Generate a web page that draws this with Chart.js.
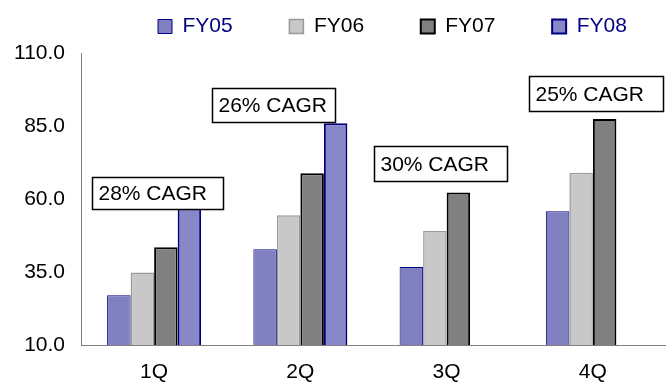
<!DOCTYPE html>
<html>
<head>
<meta charset="utf-8">
<script src="https://cdn.jsdelivr.net/npm/chart.js@4/dist/chart.umd.min.js"></script>
<style>
  html, body { margin: 0; padding: 0; background: #ffffff; }
  #wrap { width: 666px; height: 385px; position: relative; }
</style>
</head>
<body>
<div id="wrap"><canvas id="chart"></canvas></div>
<script>
// Quarterly values by fiscal year
const quarters = ['1Q', '2Q', '3Q', '4Q'];
const seriesNames = ['FY05', 'FY06', 'FY07', 'FY08'];
const fy05 = [27.0, 42.8, 36.7, 55.8];
const fy06 = [34.8, 54.4, 49.0, 69.0];
const fy07 = [43.5, 68.8, 62.2, 87.4];
const fy08 = [57.0, 85.9, null, null];
const cagrLabels = ['28% CAGR', '26% CAGR', '30% CAGR', '25% CAGR'];
const yTicks = [10, 35, 60, 85, 110];

const FONT = '"Liberation Sans", Arial, Helvetica, sans-serif';
const NAVY = '#000080';

// Callout boxes: left offset from the quarter centre, gap above the tallest bar, size
const calloutLayout = [
  { dx: -62, gap: -1, w: 131, h: 32 },
  { dx: -88, gap: 1,  w: 123, h: 34 },
  { dx: -73, gap: 12, w: 133, h: 35 },
  { dx: -64, gap: 8,  w: 134, h: 35 }
];

const cagrCallouts = {
  id: 'cagrCallouts',
  afterDatasetsDraw(chart) {
    const { ctx, scales: { x, y } } = chart;
    ctx.save();
    ctx.font = '21px ' + FONT;
    ctx.textBaseline = 'middle';
    ctx.textAlign = 'left';
    cagrLabels.forEach((text, i) => {
      const b = calloutLayout[i];
      const vals = chart.data.datasets.map(ds => ds.data[i]).filter(v => v != null);
      const peak = y.getPixelForValue(Math.max(...vals));
      const left = Math.round(x.getPixelForValue(i) + b.dx) + 0.5;
      const bottom = Math.round(peak - b.gap) + 0.5;
      const top = bottom - b.h;
      ctx.fillStyle = '#ffffff';
      ctx.fillRect(left, top, b.w, b.h);
      ctx.lineWidth = 1.5;
      ctx.strokeStyle = '#000000';
      ctx.strokeRect(left, top, b.w, b.h);
      ctx.fillStyle = '#000000';
      ctx.fillText(text, left + 6, top + b.h / 2 + 1);
    });
    ctx.restore();
  }
};

// Lift the legend row a little above its reserved band
const legendLift = {
  id: 'legendLift',
  afterLayout(chart) {
    const lg = chart.legend;
    if (lg) { lg.top -= 6; lg.bottom -= 6; }
  }
};

const legendTextColors = [NAVY, '#000000', '#000000', NAVY];
const legendTrail = [8, 8, 8, 5];

new Chart(document.getElementById('chart'), {
  type: 'bar',
  data: {
    labels: quarters,
    datasets: [
      { label: seriesNames[0], data: fy05, backgroundColor: '#8080c0', borderColor: NAVY, borderWidth: 1 },
      { label: seriesNames[1], data: fy06, backgroundColor: '#c8c8c8', borderColor: '#999999', borderWidth: 1.5 },
      { label: seriesNames[2], data: fy07, backgroundColor: '#808080', borderColor: '#000000', borderWidth: 2 },
      { label: seriesNames[3], data: fy08, backgroundColor: '#8888c8', borderColor: NAVY, borderWidth: 2 }
    ]
  },
  options: {
    responsive: true,
    maintainAspectRatio: false,
    animation: false,
    devicePixelRatio: 1,
    layout: { padding: { top: 12, left: 0, right: 0, bottom: 0 } },
    datasets: { bar: { categoryPercentage: 0.643, barPercentage: 1.0 } },
    scales: {
      x: {
        grid: { display: true, drawOnChartArea: false, drawTicks: false },
        border: { display: true, color: '#808080', width: 1 },
        ticks: { color: '#000000', font: { family: FONT, size: 21 }, padding: 15, maxRotation: 0 },
        afterFit(scale) { scale.height = 40; }
      },
      y: {
        min: 10,
        max: 110,
        grid: { display: true, drawOnChartArea: false, drawTicks: false },
        border: { display: true, color: '#808080', width: 1 },
        afterBuildTicks(scale) { scale.ticks = yTicks.map(v => ({ value: v })); },
        ticks: {
          color: '#000000',
          font: { family: FONT, size: 21 },
          padding: 16,
          callback: v => Number(v).toFixed(1)
        },
        afterFit(scale) { scale.width = 81; }
      }
    },
    plugins: {
      tooltip: { enabled: false },
      legend: {
        position: 'top',
        align: 'end',
        labels: {
          boxWidth: 14,
          boxHeight: 14,
          padding: 10,
          font: { family: FONT, size: 21 },
          generateLabels(chart) {
            return chart.data.datasets.map((ds, i) => ({
              text: ds.label + ' '.repeat(legendTrail[i]),
              fillStyle: ds.backgroundColor,
              strokeStyle: ds.borderColor,
              lineWidth: ds.borderWidth,
              fontColor: legendTextColors[i],
              hidden: false,
              datasetIndex: i
            }));
          }
        }
      }
    }
  },
  plugins: [cagrCallouts, legendLift]
});
</script>
</body>
</html>
